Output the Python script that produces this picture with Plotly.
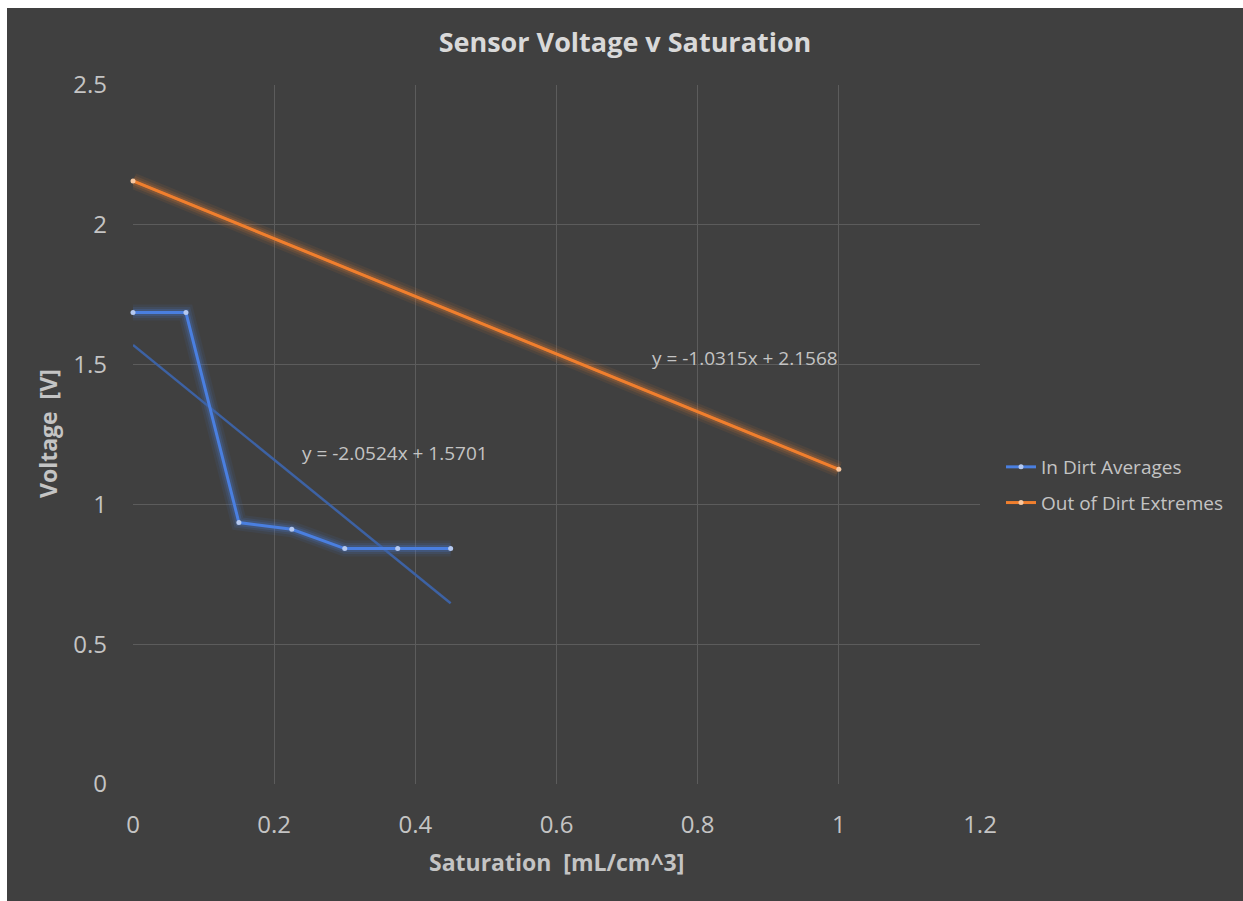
import plotly.graph_objects as go

# Data
in_dirt_x = [0, 0.075, 0.15, 0.225, 0.3, 0.375, 0.45]
in_dirt_y = [1.686, 1.686, 0.935, 0.911, 0.842, 0.842, 0.842]
out_dirt_x = [0, 1]
out_dirt_y = [2.1568, 1.1253]
in_slope, in_intercept = -2.0524, 1.5701
out_slope, out_intercept = -1.0315, 2.1568
in_eq = "y = -2.0524x + 1.5701"
out_eq = "y = -1.0315x + 2.1568"
x_ticks = [0, 0.2, 0.4, 0.6, 0.8, 1, 1.2]
x_tick_labels = ["0", "0.2", "0.4", "0.6", "0.8", "1", "1.2"]
y_ticks = [0, 0.5, 1, 1.5, 2, 2.5]
y_tick_labels = ["0", "0.5", "1", "1.5", "2", "2.5"]

BG = "#404040"
BLUE = "#4a7fe0"
ORANGE = "#f07f2e"
TXT = "#c4c4c4"
FONT = "Open Sans"

W, H = 1243, 901
ml, mr, mt, mb = 133, 263, 85, 117
pw, ph = W - ml - mr, H - mt - mb

fig = go.Figure()

in_trend_x = [in_dirt_x[0], in_dirt_x[-1]]
in_trend_y = [in_slope * v + in_intercept for v in in_trend_x]
out_trend_x = [out_dirt_x[0], out_dirt_x[-1]]
out_trend_y = [out_slope * v + out_intercept for v in out_trend_x]

# glow layers
for w, op in [(16, 0.08), (11, 0.12), (7, 0.2)]:
    fig.add_trace(go.Scatter(x=in_dirt_x, y=in_dirt_y, mode="lines",
                             line=dict(color=BLUE, width=w), opacity=op,
                             showlegend=False, hoverinfo="skip"))
    fig.add_trace(go.Scatter(x=out_dirt_x, y=out_dirt_y, mode="lines",
                             line=dict(color=ORANGE, width=w), opacity=op,
                             showlegend=False, hoverinfo="skip"))

# trendlines
fig.add_trace(go.Scatter(x=in_trend_x, y=in_trend_y, mode="lines",
                         line=dict(color="#3d62a4", width=2.5),
                         showlegend=False, hoverinfo="skip"))
fig.add_trace(go.Scatter(x=out_trend_x, y=out_trend_y, mode="lines",
                         line=dict(color="#c8692a", width=2.5),
                         showlegend=False, hoverinfo="skip"))

fig.add_trace(go.Scatter(x=in_dirt_x, y=in_dirt_y, mode="lines+markers",
                         name="In Dirt Averages", legendgroup="a", cliponaxis=False,
                         line=dict(color=BLUE, width=3),
                         marker=dict(size=5, color="#b5c9f0", line=dict(width=0))))
fig.add_trace(go.Scatter(x=out_dirt_x, y=out_dirt_y, mode="lines+markers",
                         name="Out of Dirt Extremes", legendgroup="b", cliponaxis=False,
                         line=dict(color=ORANGE, width=3),
                         marker=dict(size=5, color="#f8c8a0", line=dict(width=0))))

fig.add_annotation(x=0.867, y=1.524, text=out_eq, showarrow=False,
                   font=dict(family=FONT, size=19, color=TXT))
fig.add_annotation(x=0.371, y=1.184, text=in_eq, showarrow=False,
                   font=dict(family=FONT, size=19, color=TXT))

# axis titles
fig.add_annotation(xref="paper", yref="paper", x=(556 - ml) / pw, y=(784 - 862) / ph,
                   text="<b>Saturation  [mL/cm^3]</b>", showarrow=False,
                   xanchor="center", yanchor="middle",
                   font=dict(family=FONT, size=23, color=TXT))
fig.add_annotation(xref="paper", yref="paper", x=(48 - ml) / pw, y=(784 - 434) / ph,
                   text="<b>Voltage  [V]</b>", showarrow=False, textangle=-90,
                   xanchor="center", yanchor="middle",
                   font=dict(family=FONT, size=23, color=TXT))

# white strips at top and left
fig.add_shape(type="rect", xref="paper", yref="paper",
              x0=(0 - ml) / pw - 0.01, x1=(W - ml) / pw + 0.01,
              y0=(H - mb - 8) / ph, y1=(H - mb) / ph + 0.01,
              fillcolor="white", line=dict(width=0), layer="below")
fig.add_shape(type="rect", xref="paper", yref="paper",
              x0=(0 - ml) / pw - 0.01, x1=(7 - ml) / pw,
              y0=-mb / ph - 0.01, y1=(H - mb) / ph + 0.01,
              fillcolor="white", line=dict(width=0), layer="below")

fig.update_layout(
    width=W, height=H,
    margin=dict(l=ml, r=mr, t=mt, b=mb),
    paper_bgcolor=BG, plot_bgcolor=BG,
    font=dict(family=FONT, color=TXT),
    title=dict(text="<b>Sensor Voltage v Saturation</b>", x=625 / W, xanchor="center",
               y=1 - 43 / H, yanchor="middle", xref="container", yref="container",
               font=dict(family=FONT, size=27, color="#d9d9d9")),
    legend=dict(x=(1001 - ml) / pw, y=(784 - 485) / ph, xanchor="left", yanchor="middle",
                bgcolor="rgba(0,0,0,0)", font=dict(family=FONT, size=19, color=TXT),
                tracegroupgap=8, itemwidth=30),
    showlegend=True,
)
fig.update_xaxes(range=[0, 1.2], tickvals=x_ticks, ticktext=x_tick_labels,
                 showgrid=True, gridcolor="#5c5c5c", gridwidth=1, zeroline=False,
                 showline=False, ticks="", tickfont=dict(size=24, color=TXT),
                 ticklabelstandoff=24)
fig.update_yaxes(range=[0, 2.5], tickvals=y_ticks, ticktext=y_tick_labels,
                 showgrid=True, gridcolor="#5c5c5c", gridwidth=1, zeroline=False,
                 showline=False, ticks="", tickfont=dict(size=24, color=TXT),
                 ticklabelstandoff=25)

fig.write_html("out.html")
